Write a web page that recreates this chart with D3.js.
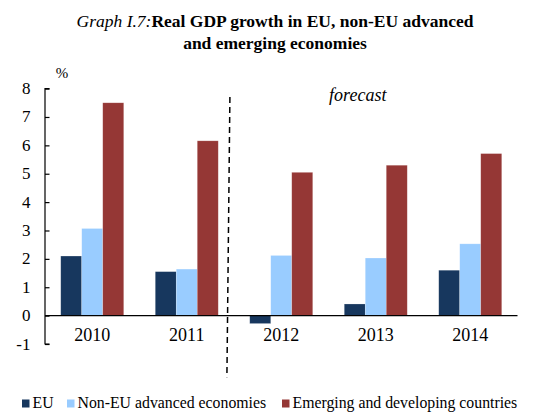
<!DOCTYPE html>
<html><head><meta charset="utf-8">
<script src="https://cdn.jsdelivr.net/npm/d3@7"></script>
<style>body{margin:0;background:#fff}svg{display:block}</style>
</head><body>
<svg id="c" width="534" height="413" font-family="'Liberation Serif', 'Times New Roman', Tinos, 'DejaVu Serif', serif"></svg>
<script>
const years = ["2010","2011","2012","2013","2014"];
const seriesNames = ["EU","Non-EU advanced economies","Emerging and developing countries"];
const euValues = [2.1, 1.55, -0.28, 0.41, 1.6];
const nonEuValues = [3.07, 1.64, 2.12, 2.03, 2.53];
const emergingValues = [7.5, 6.16, 5.05, 5.3, 5.71];
const yTicks = [-1,0,1,2,3,4,5,6,7,8];
const colors = ["#17375E","#99CCFF","#953735"];

(function(){
const svg = d3.select("#c");
const pLeft = 45, pRight = 517.5, pTop = 88.6, pBottom = 344;
const y = d3.scaleLinear().domain([-1, 8]).range([pBottom, pTop]);
const x0 = d3.scaleBand().domain(years).range([pLeft, pRight]).paddingInner(1/3).paddingOuter(1/6);
const x1 = d3.scaleBand().domain(seriesNames).range([0, x0.bandwidth()]);
const allSeries = [euValues, nonEuValues, emergingValues];

// title
const t = svg.append("text").attr("x", 275).attr("y", 27).attr("text-anchor","middle").style("font-size","17.5px");
t.append("tspan").style("font-style","italic").text("Graph I.7:");
t.append("tspan").style("font-weight","bold").text("Real GDP growth in EU, non-EU advanced");
svg.append("text").attr("x", 275).attr("y", 48.5).attr("text-anchor","middle").style("font-size","17.5px").style("font-weight","bold").text("and emerging economies");

// bars
years.forEach((yr, i) => {
  const g = svg.append("g").attr("transform", `translate(${x0(yr)},0)`);
  seriesNames.forEach((s, j) => {
    const v = allSeries[j][i];
    g.append("rect").attr("x", x1(s)).attr("width", x1.bandwidth())
      .attr("y", y(Math.max(0, v))).attr("height", Math.abs(y(v) - y(0)))
      .attr("fill", colors[j]).attr("stroke", "rgba(255,255,255,0.35)").attr("stroke-width", 0.6);
  });
});

// y axis
const yAxis = d3.axisRight(y).tickValues(yTicks).tickSize(4.5).tickFormat("");
const ya = svg.append("g").attr("transform", `translate(${pLeft},0)`).call(yAxis);
ya.selectAll("path,line").attr("stroke","#000").attr("stroke-width",1.2);
ya.select(".domain").attr("d", `M4.5,${y(8)}H0V${y(-1)}H4.5`);
yTicks.forEach(v => {
  svg.append("text").attr("x", 30.5).attr("y", y(v) + 5.5).attr("text-anchor","end").style("font-size","17px").text(v);
});
svg.append("text").attr("x", 62).attr("y", 78).attr("text-anchor","middle").style("font-size","15px").text("%");

// x axis line at 0
svg.append("line").attr("x1", pLeft).attr("x2", pRight).attr("y1", y(0)).attr("y2", y(0)).attr("stroke","#000").attr("stroke-width",1.2);
years.forEach(yr => {
  svg.append("text").attr("x", x0(yr) + x0.bandwidth()/2).attr("y", y(0) + 25).attr("text-anchor","middle").style("font-size","18px").text(yr);
});

// forecast divider
const step = x0.step();
const lx = x0("2012") - step * 0.21;
svg.append("line").attr("x1", lx).attr("x2", lx - 3).attr("y1", y(7.7)).attr("y2", y(-2.17))
  .attr("stroke","#000").attr("stroke-width",1.5).attr("stroke-dasharray","6,4");
svg.append("text").attr("x", x0("2013") + x0.bandwidth()/2 - 18).attr("y", 101).attr("text-anchor","middle")
  .style("font-size","18px").style("font-style","italic").text("forecast");

// legend
const legendX = [22, 67, 282];
seriesNames.forEach((s, j) => {
  svg.append("rect").attr("x", legendX[j]).attr("y", 399.5).attr("width", 7.5).attr("height", 8).attr("fill", colors[j]);
  svg.append("text").attr("x", legendX[j] + 10.5).attr("y", 408).style("font-size","15.8px").text(s);
});
})();
</script>
</body></html>
